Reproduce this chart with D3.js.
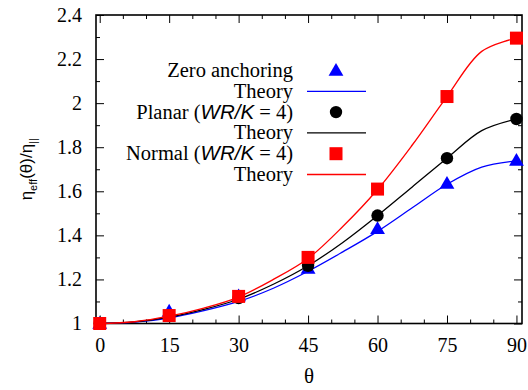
<!DOCTYPE html>
<html>
<head>
<meta charset="utf-8">
<script src="https://cdn.jsdelivr.net/npm/d3@7"></script>
<style>
  body { margin: 0; background: #fff; }
  svg { display: block; }
</style>
</head>
<body>
<svg id="chart" width="528" height="390"></svg>
<script>
// measured data points
const angles = [0, 15, 30, 45, 60, 75, 90];
const zeroAnchoring = [1.0, 1.055, 1.125, 1.25, 1.43, 1.635, 1.74];
const planar = [1.0, 1.035, 1.115, 1.262, 1.49, 1.75, 1.928];
const normal = [1.0, 1.036, 1.123, 1.30, 1.61, 2.03, 2.295];

const theoryAngles = [0, 7.5, 15, 22.5, 30, 37.5, 45, 52.5, 60, 67.5, 75, 82.5, 90];
const zeroTheory = [1.0, 1.006, 1.025, 1.058, 1.10, 1.16, 1.237, 1.325, 1.418, 1.525, 1.632, 1.71, 1.738];
const planarTheory = [1.0, 1.007, 1.029, 1.064, 1.11, 1.178, 1.262, 1.368, 1.49, 1.62, 1.75, 1.875, 1.928];
const normalTheory = [1.0, 1.008, 1.033, 1.07, 1.12, 1.20, 1.295, 1.44, 1.608, 1.81, 2.03, 2.235, 2.295];

const xTicks = [0, 15, 30, 45, 60, 75, 90];
const yTicks = [1, 1.2, 1.4, 1.6, 1.8, 2, 2.2, 2.4];

const SERIF = 'Liberation Serif';
const SANS = 'Liberation Sans';

const svg = d3.select('#chart');
const margin = { top: 15, right: 6, bottom: 66.5, left: 96 };
const width = +svg.attr('width') - margin.left - margin.right;
const height = +svg.attr('height') - margin.top - margin.bottom;

const g = svg.append('g').attr('transform', `translate(${margin.left},${margin.top})`);

const x = d3.scaleLinear().domain([-0.8, 91.2]).range([0, width]);
const y = d3.scaleLinear().domain([1, 2.4]).range([height, 0]);

const xMinor = d3.range(0, 91, 5).filter(v => v % 15 !== 0);
const yMinor = d3.range(1.1, 2.4, 0.2);

function styleAxis(sel) {
  sel.attr('font-family', SERIF).attr('font-size', 20);
  sel.select('.domain').remove();
  sel.selectAll('.tick line').attr('stroke', '#000').attr('stroke-width', 1);
  sel.selectAll('.tick text').attr('fill', '#000');
}

// major / minor ticks on all four sides, pointing inwards
g.append('g').attr('transform', `translate(0,${height})`)
  .call(d3.axisBottom(x).tickValues(xTicks).tickSize(-8).tickPadding(14).tickFormat(d3.format('d')))
  .call(styleAxis);
g.append('g').attr('transform', `translate(0,${height})`)
  .call(d3.axisBottom(x).tickValues(xMinor).tickSize(-4).tickFormat(''))
  .call(styleAxis);
g.append('g')
  .call(d3.axisTop(x).tickValues(xTicks).tickSize(-8).tickFormat(''))
  .call(styleAxis);
g.append('g')
  .call(d3.axisTop(x).tickValues(xMinor).tickSize(-4).tickFormat(''))
  .call(styleAxis);

g.append('g')
  .call(d3.axisLeft(y).tickValues(yTicks).tickSize(-8).tickPadding(14).tickFormat(d3.format('')))
  .call(styleAxis);
g.append('g')
  .call(d3.axisLeft(y).tickValues(yMinor).tickSize(-4).tickFormat(''))
  .call(styleAxis);
g.append('g').attr('transform', `translate(${width},0)`)
  .call(d3.axisRight(y).tickValues(yTicks).tickSize(-8).tickFormat(''))
  .call(styleAxis);
g.append('g').attr('transform', `translate(${width},0)`)
  .call(d3.axisRight(y).tickValues(yMinor).tickSize(-4).tickFormat(''))
  .call(styleAxis);

// frame
g.append('rect')
  .attr('width', width).attr('height', height)
  .attr('fill', 'none').attr('stroke', '#000').attr('stroke-width', 1.6);

const line = d3.line()
  .x((d, i) => x(theoryAngles[i]))
  .y(d => y(d))
  .curve(d3.curveCatmullRom.alpha(0.5));

const triangle = d3.symbol().type(d3.symbolTriangle).size(95);
const square = 13;
const circleR = 6.2;

const series = [
  { pts: zeroAnchoring, theory: zeroTheory, color: '#0000ff', mark: 'tri' },
  { pts: planar, theory: planarTheory, color: '#000000', mark: 'circle' },
  { pts: normal, theory: normalTheory, color: '#ff0000', mark: 'square' }
];

function drawMark(sel, mark, color, cx, cy) {
  if (mark === 'tri') {
    sel.append('path').attr('d', triangle())
      .attr('transform', `translate(${cx},${cy + 1})`).attr('fill', color);
  } else if (mark === 'circle') {
    sel.append('circle').attr('cx', cx).attr('cy', cy).attr('r', circleR).attr('fill', color);
  } else {
    sel.append('rect').attr('x', cx - square / 2).attr('y', cy - square / 2)
      .attr('width', square).attr('height', square).attr('fill', color);
  }
}

series.forEach(s => {
  const mg = g.append('g');
  s.pts.forEach((v, i) => drawMark(mg, s.mark, s.color, x(angles[i]), y(v)));
  g.append('path').datum(s.theory)
    .attr('d', line)
    .attr('fill', 'none')
    .attr('stroke', s.color)
    .attr('stroke-width', 1.3);
});

// legend
const legend = svg.append('g').attr('font-family', SERIF).attr('font-size', 20.5);
const legendRows = [
  { label: ['Zero anchoring'], mark: 'tri', color: '#0000ff' },
  { label: ['Theory'], mark: 'line', color: '#0000ff' },
  { label: ['Planar (', 'WR/K', ' = 4)'], mark: 'circle', color: '#000000' },
  { label: ['Theory'], mark: 'line', color: '#000000' },
  { label: ['Normal (', 'WR/K', ' = 4)'], mark: 'square', color: '#ff0000' },
  { label: ['Theory'], mark: 'line', color: '#ff0000' }
];
legendRows.forEach((r, i) => {
  const cy = 70.5 + i * 20.8;
  const t = legend.append('text').attr('x', 293).attr('y', cy + 6.5).attr('text-anchor', 'end');
  r.label.forEach((part, j) => {
    const ts = t.append('tspan').text(part);
    if (j === 1) ts.attr('font-family', SANS).attr('font-style', 'italic');
  });
  if (r.mark === 'line') {
    legend.append('line').attr('x1', 307).attr('x2', 366).attr('y1', cy).attr('y2', cy)
      .attr('stroke', r.color).attr('stroke-width', 1.3);
  } else {
    drawMark(legend, r.mark, r.color, 336, cy);
  }
});

// axis titles
svg.append('text')
  .attr('x', margin.left + width / 2).attr('y', 383)
  .attr('text-anchor', 'middle')
  .attr('font-family', SERIF).attr('font-size', 21)
  .text('θ');

const yl = svg.append('text')
  .attr('transform', `translate(32,${margin.top + height / 2}) rotate(-90)`)
  .attr('text-anchor', 'middle')
  .attr('font-family', SANS).attr('font-size', 17);
yl.append('tspan').text('η');
yl.append('tspan').text('eff').attr('font-size', 11).attr('dy', 5);
yl.append('tspan').text('(θ)/η').attr('dy', -5);
yl.append('tspan').text('||').attr('font-size', 11).attr('dy', 5);
const ylLen = yl.node().getComputedTextLength();
if (ylLen > 92) yl.attr('textLength', 92).attr('lengthAdjust', 'spacingAndGlyphs');
</script>
</body>
</html>
